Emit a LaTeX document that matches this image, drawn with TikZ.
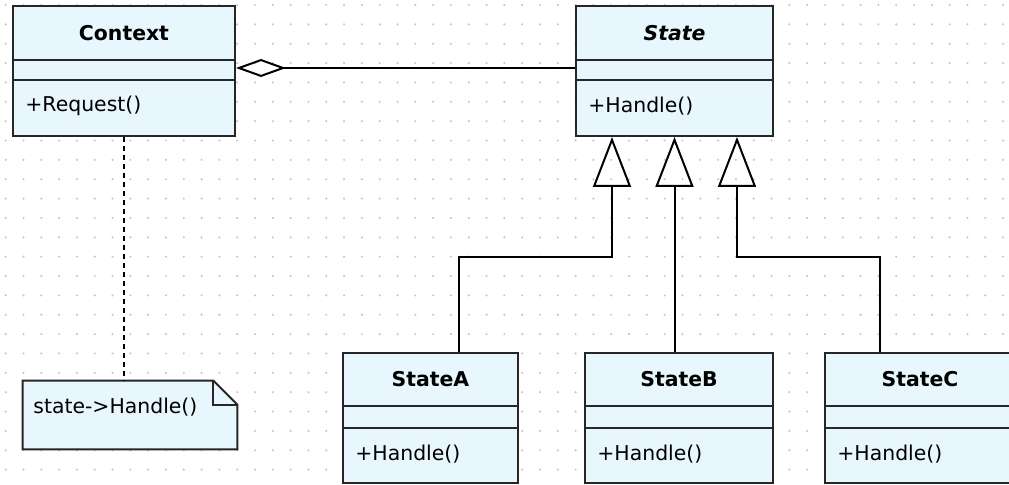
\documentclass[tikz,border=0pt]{standalone}
\usepackage{fontspec}
\setmainfont{DejaVu Sans}
\usetikzlibrary{arrows.meta,fit}
\definecolor{classfill}{RGB}{231,247,253}
\definecolor{griddot}{RGB}{200,200,200}

\begin{document}
\begin{tikzpicture}[x=0.5pt, y=-0.5pt,
    classbox/.style={draw=black!85, line width=1pt, fill=classfill, inner sep=0pt},
    classline/.style={draw=black!85, line width=1pt},
    classname/.style={font=\fontsize{10.2}{12}\selectfont\bfseries},
    member/.style={font=\fontsize{10.2}{12}\selectfont, anchor=west, inner sep=0pt},
    inherit/.style={line width=1pt, -{Triangle[open, length=25pt, width=19pt]}},
    aggr/.style={line width=1pt, -{Diamond[open, length=25pt, width=9pt]}}]
    \clip (0,0) rectangle (1009,485);

    % Dot grid
    \foreach \i in {0,...,56}
        \foreach \j in {0,...,24}
            \fill[griddot] (5.7+17.81*\i, 5+19.36*\j) circle (0.6pt);

    % Context
    \node[classbox, fit={(13,6) (235,136)}] (ctx) {};
    \draw[classline] (13,60) -- (235,60) (13,80) -- (235,80);
    \node[classname] (ctx-name) at (124,33) {Context};
    \node[member] (ctx-op) at (25,106) {+Request()};

    % State (abstract)
    \node[classbox, fit={(576,6) (773,136)}] (state) {};
    \draw[classline] (576,60) -- (773,60) (576,80) -- (773,80);
    \node[classname] (state-name) at (674.5,33) {\itshape State};
    \node[member] (state-op) at (588,106) {+Handle()};

    % Concrete states
    \foreach \n/\l/\r/\name in {sa/343/518/StateA, sb/585/773/StateB, sc/825/1015/StateC} {
        \node[classbox, fit={(\l,353) (\r,483)}] (\n) {};
        \draw[classline] (\l,406) -- (\r,406) (\l,428) -- (\r,428);
        \node[classname] (\n-name) at ({(\l+\r)/2},379) {\name};
        \node[member] (\n-op) at (\l+12,454) {+Handle()};
    }

    % Note
    \node[inner sep=0pt, fit={(23,381) (237,449)}] (note) {};
    \filldraw[classbox] (note.north west) -- ([xshift=-12pt]note.north east)
        -- ([yshift=-12pt]note.north east) -- (note.south east)
        -- (note.south west) -- cycle;
    \draw[classline] ([xshift=-12pt]note.north east) |- ([yshift=-12pt]note.north east);
    \node[member] (note-text) at (33,407) {state->Handle()};
    \draw[line width=1pt, dash pattern=on 2.5pt off 2pt] (ctx.south) -- (ctx.south |- note.north);

    % Aggregation
    \draw[aggr] ([yshift=1.5pt]state.west) -- ([yshift=1.5pt]ctx.east);

    % Generalization
    \coordinate (ja) at (459,257);
    \coordinate (jc) at (880,257);
    \draw[inherit] (sa.north -| ja) -- (ja) -| ([xshift=-31.25pt]state.south);
    \draw[inherit] (sb.north -| state.south) -- (state.south);
    \draw[inherit] (sc.north -| jc) -- (jc) -| ([xshift=31.25pt]state.south);
\end{tikzpicture}
\end{document}
